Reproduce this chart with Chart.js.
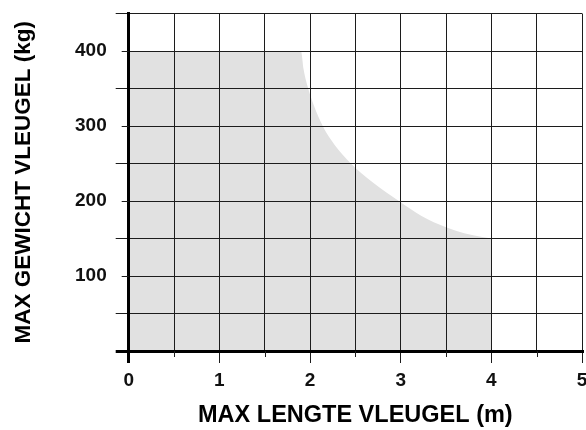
<!DOCTYPE html>
<html>
<head>
<meta charset="utf-8">
<script src="https://cdn.jsdelivr.net/npm/chart.js@4/dist/chart.umd.min.js"></script>
<style>
  html, body { margin: 0; padding: 0; background: #fff; overflow: hidden; width: 586px; height: 430px; }
  canvas { display: block; }
</style>
</head>
<body>
<canvas id="c" width="600" height="430"></canvas>
<script>
// Envelope of allowed wing length (m) vs wing weight (kg)
const lengthM = [0, 1.9, 1.93, 1.98, 2.05, 2.14, 2.27, 2.45, 2.69, 2.98, 3.23, 3.5, 3.7, 3.9, 4];
const weightKg = [400, 400, 375, 350, 325, 300, 275, 250, 225, 200, 180, 165, 157, 152, 150];
const xTickLabels = ['0', '1', '2', '3', '4', '5'];
const yTickLabels = ['100', '200', '300', '400'];
const xTitle = 'MAX LENGTE VLEUGEL (m)';
const yTitle = 'MAX GEWICHT VLEUGEL (kg)';

const FONT = '"Liberation Sans", Arial, Helvetica, sans-serif';
const LINE = '#1c1c1c';

const points = lengthM.map((x, i) => ({ x, y: weightKg[i] }));

const extraTicks = {
  id: 'extraTicks',
  afterDraw(chart) {
    const ctx = chart.ctx;
    const xs = chart.scales.x, ys = chart.scales.y;
    const area = chart.chartArea;
    ctx.save();
    ctx.strokeStyle = LINE;
    ctx.lineWidth = 1;
    for (let v = 0.5; v < 5; v += 1) {
      const px = Math.round(xs.getPixelForValue(v)) + 0.5;
      ctx.beginPath();
      ctx.moveTo(px, area.bottom);
      ctx.lineTo(px, area.bottom + 6);
      ctx.stroke();
    }
    for (let v = 100; v <= 400; v += 100) {
      const py = Math.round(ys.getPixelForValue(v)) + 0.5;
      ctx.beginPath();
      ctx.moveTo(area.left - 7, py);
      ctx.lineTo(area.left, py);
      ctx.stroke();
    }
    ctx.restore();
  }
};

new Chart(document.getElementById('c'), {
  type: 'scatter',
  data: {
    datasets: [{
      data: points,
      showLine: true,
      fill: 'origin',
      backgroundColor: '#e1e1e1',
      borderWidth: 0,
      borderColor: 'rgba(0,0,0,0)',
      pointRadius: 0,
      cubicInterpolationMode: 'monotone'
    }]
  },
  options: {
    responsive: false,
    animation: false,
    events: [],
    layout: { padding: { top: 13.5, right: 18, left: 0, bottom: 0 } },
    plugins: { legend: { display: false }, tooltip: { enabled: false } },
    scales: {
      x: {
        type: 'linear',
        min: 0, max: 5,
        afterFit: s => { s.height = 79; s.paddingLeft = 0; s.paddingRight = 0; },
        ticks: {
          stepSize: 0.5,
          autoSkip: false,
          maxRotation: 0,
          padding: 6,
          color: '#111',
          font: { family: FONT, size: 19, weight: 'bold' },
          callback: v => (Number.isInteger(v) ? xTickLabels[v] : '')
        },
        grid: {
          z: 1,
          color: ctx => (ctx.tick && ctx.tick.value === 0 ? '#000' : LINE),
          lineWidth: ctx => (ctx.tick && ctx.tick.value === 0 ? 3 : 1),
          drawTicks: true,
          tickLength: 12,
          tickColor: ctx => (ctx.tick && Number.isInteger(ctx.tick.value) ? (ctx.tick.value === 0 ? '#000' : LINE) : 'rgba(0,0,0,0)'),
          tickWidth: ctx => (ctx.tick && ctx.tick.value === 0 ? 3 : 1)
        },
        border: { display: true, z: 1, color: '#000', width: 3 },
        title: {
          display: true,
          text: xTitle,
          color: '#000',
          font: { family: FONT, size: 23.5, weight: 'bold' },
          padding: { top: 0, bottom: 0 }
        }
      },
      y: {
        type: 'linear',
        min: 0, max: 450,
        afterFit: s => { s.width = 128.7; s.paddingTop = 0; s.paddingBottom = 0; },
        ticks: {
          stepSize: 50,
          autoSkip: false,
          padding: 9,
          color: '#111',
          font: { family: FONT, size: 19, weight: 'bold' },
          callback: v => (v % 100 === 0 && v > 0 && v < 450 ? yTickLabels[v / 100 - 1] : '')
        },
        grid: {
          z: 1,
          color: ctx => (ctx.tick && ctx.tick.value === 0 ? '#000' : LINE),
          lineWidth: ctx => (ctx.tick && ctx.tick.value === 0 ? 3 : 1),
          drawTicks: true,
          tickLength: 13,
          tickColor: ctx => (ctx.tick && ctx.tick.value % 100 === 0 && ctx.tick.value !== 0 ? 'rgba(0,0,0,0)' : (ctx.tick && ctx.tick.value === 0 ? '#000' : LINE)),
          tickWidth: ctx => (ctx.tick && ctx.tick.value === 0 ? 3 : 1)
        },
        border: { display: true, z: 1, color: '#000', width: 3 },
        title: {
          display: true,
          text: yTitle,
          color: '#000',
          font: { family: FONT, size: 22.5, weight: 'bold' },
          padding: { top: 10, bottom: 0 }
        }
      }
    }
  },
  plugins: [extraTicks]
});
</script>
</body>
</html>
